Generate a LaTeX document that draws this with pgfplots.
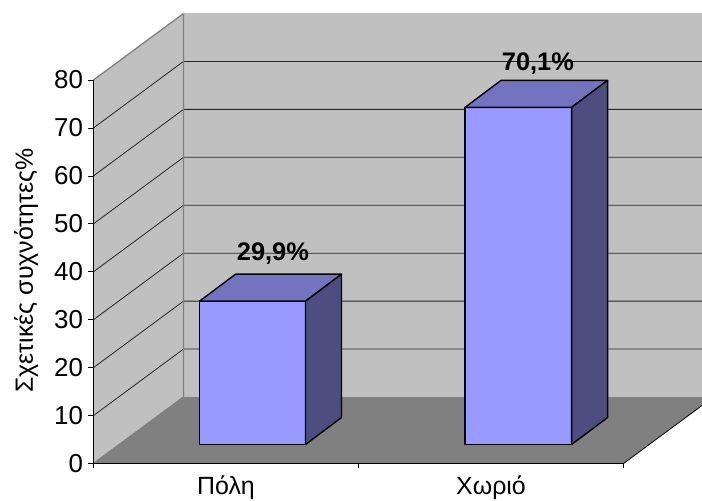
\documentclass[border=0pt]{standalone}
\usepackage{pgfplots}
\pgfplotsset{compat=1.18}
\usepackage{fontspec}
\setmainfont{Liberation Sans}
\definecolor{wall}{HTML}{C0C0C0}
\definecolor{floorc}{HTML}{808080}
\definecolor{barfront}{HTML}{9999FF}
\definecolor{bartop}{HTML}{7373BF}
\definecolor{barside}{HTML}{4D4D80}
\begin{document}
\begin{tikzpicture}
\path[use as bounding box] (0,0) rectangle (702bp,501bp);
\begin{axis}[
    at={(93.5bp,37.5bp)},
    anchor=south west,
    scale only axis,
    width=530bp,
    height=383.5bp,
    xmin=0, xmax=2,
    ymin=0, ymax=80,
    clip=false,
    axis on top,
    axis lines*=left,
    axis line style={line width=1.1bp,black},
    xtick={0,1,2},
    xticklabels={},
    extra x ticks={0.5,1.5},
    extra x tick labels={Πόλη,Χωριό},
    extra x tick style={major tick length=0pt},
    ytick={0,10,...,80},
    tick align=outside,
    major tick length=5bp,
    tick style={line width=0.7bp,black},
    /pgf/number format/assume math mode=true,
    yticklabel style={font=\fontsize{26}{28}\selectfont,xshift=-2bp},
    xticklabel style={font=\fontsize{25}{27}\selectfont,yshift=-9bp},
    every axis y label/.style={at={(rel axis cs:-0.127,0.503)},rotate=90,anchor=center},
    ylabel={Σχετικές συχνότητες\%},
    ylabel style={font=\fontsize{25}{27}\selectfont},
]
% walls and floor
\addplot[fill=wall,draw=none] coordinates {(0,0) (0.3396,13.87) (0.3396,93.87) (0,80)} --cycle;
\addplot[fill=wall,draw=none] coordinates {(0.3396,13.87) (2.2962,13.87) (2.2962,93.87) (0.3396,93.87)} --cycle;
\addplot[fill=floorc,draw=none] coordinates {(0,0) (0.3396,13.87) (2.2962,13.87) (2.2962,12.1) (2,0)} --cycle;
\addplot[color=black,line width=0.8bp] coordinates {(2,0) (2.2962,12.1)};
% grid lines
\addplot[color=black!85,line width=0.8bp] coordinates {(0,10) (0.3396,23.87) (2.2962,23.87)};
\addplot[color=black!85,line width=0.8bp] coordinates {(0,20) (0.3396,33.87) (2.2962,33.87)};
\addplot[color=black!85,line width=0.8bp] coordinates {(0,30) (0.3396,43.87) (2.2962,43.87)};
\addplot[color=black!85,line width=0.8bp] coordinates {(0,40) (0.3396,53.87) (2.2962,53.87)};
\addplot[color=black!85,line width=0.8bp] coordinates {(0,50) (0.3396,63.87) (2.2962,63.87)};
\addplot[color=black!85,line width=0.8bp] coordinates {(0,60) (0.3396,73.87) (2.2962,73.87)};
\addplot[color=black!85,line width=0.8bp] coordinates {(0,70) (0.3396,83.87) (2.2962,83.87)};
% wall edges
\addplot[color=floorc,line width=1.3bp] coordinates {(0,0) (0.3396,13.87) (0.3396,93.87) (0,80)};
\addplot[color=black!25,line width=1bp] coordinates {(0.3396,93.87) (2.2962,93.87)};
% bar Πόλη, 29.9
\addplot[fill=barfront,draw=black,line width=1.4bp,line join=round] coordinates {(0.4,3.96) (0.8,3.96) (0.8,33.86) (0.4,33.86)} --cycle;
\addplot[fill=bartop,draw=black,line width=1.4bp,line join=round] coordinates {(0.4,33.86) (0.8,33.86) (0.936,39.49) (0.536,39.49)} --cycle;
\addplot[fill=barside,draw=black,line width=1.4bp,line join=round] coordinates {(0.8,3.96) (0.936,9.59) (0.936,39.49) (0.8,33.86)} --cycle;
% bar Χωριό, 70.1
\addplot[fill=barfront,draw=black,line width=1.4bp,line join=round] coordinates {(1.402,3.96) (1.804,3.96) (1.804,74.29) (1.402,74.29)} --cycle;
\addplot[fill=bartop,draw=black,line width=1.4bp,line join=round] coordinates {(1.402,74.29) (1.804,74.29) (1.94,79.92) (1.538,79.92)} --cycle;
\addplot[fill=barside,draw=black,line width=1.4bp,line join=round] coordinates {(1.804,3.96) (1.94,9.59) (1.94,79.92) (1.804,74.29)} --cycle;
% data labels
\node[font=\fontsize{25.5}{27}\selectfont\bfseries] at (axis cs:0.677,43.7) {29,9\%};
\node[font=\fontsize{25.5}{27}\selectfont\bfseries] at (axis cs:1.677,83.35) {70,1\%};
\end{axis}
\end{tikzpicture}
\end{document}
